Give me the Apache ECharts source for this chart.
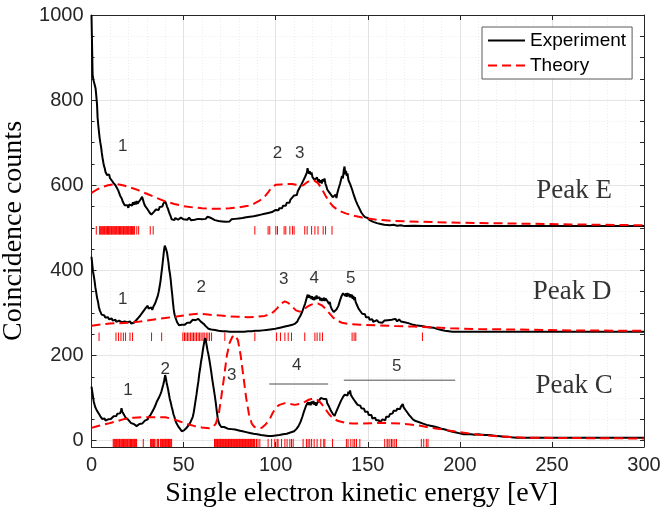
<!DOCTYPE html>
<html>
<head>
<meta charset="utf-8">
<script src="https://cdn.jsdelivr.net/npm/echarts@6/dist/echarts.min.js"></script>
<style>html,body{margin:0;padding:0;background:#fff}#c{width:664px;height:508px}</style>
</head>
<body>
<div id="c"></div>
<script>
// ---------- data ----------
const xTicks = [0, 50, 100, 150, 200, 250, 300];
const yTicks = [0, 200, 400, 600, 800, 1000];
const yMinorTicks = [0, 50, 100, 150, 200, 250, 300, 350, 400, 450, 500, 550, 600, 650, 700, 750, 800, 850, 900, 950, 1000];
const peakOffsets = [500, 250, 0]; // E, D, C baselines

const expE = [[0,1000],[0.3,930],[0.6,860],[1.0,848],[1.4,852],[1.8,835],[2.2,828],[2.6,810],[3.0,790],[3.3,760],[3.6,745],[4.0,728],[4.4,712],[4.8,700],[5.2,690],[5.6,676],[6.0,664],[6.4,654],[6.8,645],[7.2,640],[7.6,631],[8.0,633],[8.4,624],[8.8,627],[9.2,620],[9.6,625],[10.0,617],[10.4,614],[10.8,618],[11.2,610],[11.6,612],[12.0,605],[12.5,608],[13.0,600],[13.5,596],[14.0,601],[14.5,588],[15.0,584],[15.5,576],[16.0,572],[16.5,568],[17.0,561],[17.5,563],[18.0,553],[18.5,556],[19.0,549],[19.5,553],[20.0,547],[20.5,555],[21.0,551],[21.5,558],[22.0,552],[22.5,560],[23.0,554],[23.5,561],[24.0,555],[24.5,563],[25.0,557],[25.5,554],[26.0,561],[26.5,566],[27.0,563],[27.5,573],[28.0,565],[28.5,558],[29.0,552],[29.5,548],[30.0,551],[30.5,543],[31.0,541],[31.5,536],[32.0,539],[32.5,531],[33.0,535],[33.5,530],[34.0,538],[34.5,535],[35.0,543],[35.5,539],[36.0,546],[36.5,542],[37.0,549],[37.5,546],[38.0,553],[38.5,550],[39.0,557],[39.5,553],[40.0,562],[40.5,557],[41.0,550],[41.5,545],[42.0,538],[42.5,532],[43.0,527],[43.5,520],[44.0,517],[44.5,522],[45,518],[45.5,523],[46,521],[46.5,525],[47,519],[47.5,522],[48,518],[48.5,524],[49,521],[49.5,526],[50,520],[51,523],[52,519],[53,524],[54,518],[55,522],[56,519],[57,516],[58,521],[59,518],[60,520],[61,516],[62,521],[63,526],[64,529],[65,523],[66,525],[67,518],[68,521],[69,516],[70,519],[71,515],[72,518],[73,514],[74,518],[75,515],[76,520],[77,516],[78,521],[79,517],[80,522],[81,518],[82,523],[83,519],[84,525],[85,521],[86,526],[87,522],[88,527],[89,523],[90,529],[91,525],[92,531],[93,527],[94,533],[95,529],[96,535],[97,531],[98,537],[99,536],[100,542],[100.5,538],[101,544],[101.5,541],[102,546],[102.5,544],[103,549],[103.5,546],[104,552],[104.5,549],[105,556],[105.5,552],[106,559],[106.5,556],[107,563],[107.5,559],[108,566],[108.5,563],[109,571],[109.5,568],[110,576],[110.5,572],[111,580],[111.5,577],[112,586],[112.5,584],[113,594],[113.5,592],[114,602],[114.5,600],[115,611],[115.5,608],[116,620],[116.5,618],[117,630],[117.3,640],[117.7,636],[118.1,627],[118.5,633],[119,625],[119.5,630],[120,619],[120.5,622],[121,613],[121.5,617],[122,610],[122.5,618],[123,608],[123.5,614],[124,606],[124.5,612],[125,604],[125.5,614],[126,609],[126.5,616],[127,604],[127.5,598],[128,590],[128.5,594],[129,584],[129.5,588],[130,578],[130.5,582],[131,572],[131.5,576],[132,568],[132.5,578],[133,570],[133.5,582],[134,590],[134.5,586],[135,604],[135.5,600],[136,622],[136.5,616],[137,636],[137.4,644],[137.8,626],[138.2,634],[138.6,622],[139,628],[139.5,612],[140,616],[140.5,602],[141,600],[141.5,590],[142,588],[142.5,576],[143,574],[143.5,564],[144,562],[144.5,554],[145,552],[145.5,545],[146,544],[146.5,536],[147,536],[147.5,530],[148,531],[148.5,525],[149,527],[149.5,521],[150,523],[151,518],[152,519],[153,514],[154,515],[155,511],[156,513],[157,509],[158,510],[159,507],[160,509],[162,506],[164,507],[166,505],[168,506],[170,504],[175,505],[180,504],[190,504],[300,504]];

const theoE = [[0,582],[3,590],[6,596],[9,600],[13,603],[17,600],[21,595],[25,589],[30,580],[35,571],[40,562],[45,556],[50,551],[55,548],[60,546],[65,545],[70,545],[75,546],[80,548],[85,552],[88,556],[91,563],[94,573],[96,584],[98,596],[100,601],[103,602],[106,603],[109,603],[111,601],[113,599],[115,600],[117,607],[119,612],[121,611],[123,605],[125,592],[127,576],[129,562],[131,551],[134,541],[138,534],[142,529],[147,524],[155,519],[165,516],[180,514],[200,512],[230,510],[260,508],[300,506]];

const expD = [[0,432],[0.4,415],[0.8,398],[1.2,388],[1.7,374],[2.1,360],[2.5,350],[3.0,336],[3.5,327],[4.0,314],[4.5,306],[5.0,302],[5.5,296],[6.0,298],[6.5,292],[7.0,294],[7.5,289],[8.0,292],[8.5,286],[9.0,290],[9.5,285],[10,288],[10.5,283],[11,287],[11.5,282],[12,285],[12.5,280],[13,284],[13.5,279],[14,283],[14.5,278],[15,282],[15.5,279],[16,283],[16.5,278],[17,281],[17.5,277],[18,280],[18.5,276],[19,281],[19.5,278],[20,282],[20.5,277],[21,280],[21.5,275],[22,279],[22.5,274],[23,277],[23.5,275],[24,280],[24.5,284],[25,283],[25.5,289],[26,288],[26.5,294],[27,293],[27.5,300],[28,298],[28.5,306],[29,303],[29.5,312],[30,308],[30.5,317],[31,310],[31.5,314],[32,306],[32.5,313],[33,307],[33.5,314],[34,312],[34.5,322],[35,326],[35.5,334],[36,340],[36.5,350],[37,362],[37.5,376],[38,394],[38.5,412],[39,432],[39.4,448],[39.8,458],[40.2,456],[40.6,448],[41,442],[41.4,430],[41.8,418],[42.2,402],[42.6,392],[43,378],[43.4,360],[43.8,344],[44.2,326],[44.6,310],[45,298],[45.5,290],[46,284],[46.5,278],[47,275],[47.5,271],[48,273],[48.5,269],[49,272],[49.5,270],[50,274],[50.5,272],[51,276],[51.5,273],[52,277],[52.5,275],[53,279],[53.5,277],[54,281],[54.5,280],[55,284],[55.5,282],[56,286],[56.5,283],[57,287],[57.5,284],[58,286],[58.5,282],[59,283],[59.5,279],[60,279],[60.5,275],[61,274],[61.5,270],[62,269],[62.5,266],[63,266],[63.5,263],[64,264],[65,261],[66,263],[67,260],[68,261],[69,258],[70,260],[71,257],[72,259],[73,257],[74,259],[75,256],[76,258],[77,256],[78,258],[79,256],[80,258],[81,256],[82,258],[83,256],[84,258],[85,257],[86,259],[87,257],[88,259],[89,258],[90,260],[91,258],[92,260],[93,259],[94,261],[95,260],[96,262],[97,261],[98,263],[99,262],[100,265],[101,264],[102,267],[103,266],[104,269],[105,268],[106,272],[107,270],[108,274],[109,272],[110,276],[110.6,275],[111.2,279],[111.8,280],[112.4,286],[113,290],[113.5,294],[114,297],[114.5,304],[115,308],[115.5,316],[116,322],[116.5,330],[117,338],[117.4,343],[117.8,336],[118.2,342],[118.6,335],[119,340],[119.4,333],[119.8,339],[120.2,331],[120.6,337],[121,330],[121.4,338],[121.8,332],[122.2,341],[122.6,334],[123,338],[123.4,331],[123.8,337],[124.2,329],[124.6,335],[125,328],[125.4,334],[125.8,329],[126.2,336],[126.6,328],[127,334],[127.4,330],[127.8,337],[128.2,327],[128.6,330],[129,321],[129.4,326],[129.8,316],[130.2,318],[130.6,308],[131,310],[131.5,302],[132,304],[132.5,300],[133,308],[133.5,306],[134,316],[134.5,320],[135,330],[135.4,332],[135.8,340],[136.2,338],[136.6,346],[137,342],[137.4,348],[137.8,340],[138.2,346],[138.6,338],[139,347],[139.4,340],[139.8,345],[140.2,337],[140.6,344],[141,336],[141.4,343],[141.8,333],[142.2,340],[142.6,330],[143,337],[143.4,326],[143.8,330],[144.2,318],[144.6,320],[145,310],[145.5,314],[146,304],[146.5,306],[147,298],[147.5,302],[148,294],[148.5,297],[149,290],[149.5,293],[150,286],[150.5,290],[151,284],[151.5,288],[152,282],[152.5,285],[153,279],[153.5,283],[154,278],[155,283],[156,278],[157,282],[158,277],[159,282],[160,278],[161,283],[162,279],[163,284],[164,281],[165,286],[166,280],[167,285],[168,280],[169,283],[170,278],[171,281],[172,276],[173,278],[174,273],[175,276],[176,271],[177,274],[178,270],[179,272],[180,269],[181,271],[182,267],[183,270],[184,266],[185,268],[186,265],[187,266],[188,262],[189,263],[190,260],[191,260],[192,258],[194,257],[196,256],[200,256],[210,256],[300,256]];

const theoD = [[0,270],[5,273],[10,275],[15,276],[20,277],[25,279],[30,282],[35,285],[40,288],[45,291],[50,294],[55,297],[58,298],[62,297],[66,295],[70,294],[75,292],[80,291],[85,290],[90,291],[94,293],[97,297],[99,303],[101,312],[103,322],[105,327],[107,323],[109,315],[111,306],[113,303],[115,307],[117,314],[119,319],[121,322],[123,322],[125,318],[127,310],[129,300],[131,290],[133,283],[136,277],[140,274],[146,272],[155,271],[165,269],[175,268],[185,266],[195,264],[210,262],[230,261],[260,259],[300,258]];

const expC = [[0,127],[0.4,115],[0.8,104],[1.2,92],[1.7,84],[2.1,78],[2.6,74],[3.0,70],[3.5,68],[4.0,63],[4.4,61],[4.8,57],[5.3,56],[5.8,51],[6.2,54],[6.7,49],[7.1,52],[7.6,47],[8.0,50],[8.5,46],[9.0,50],[9.5,48],[10,53],[10.5,51],[11,55],[11.5,52],[12,57],[12.5,55],[13,60],[13.5,58],[14,63],[14.5,60],[15,66],[15.5,64],[16,70],[16.3,76],[16.7,68],[17.1,70],[17.5,62],[18,60],[18.5,54],[19,55],[19.5,50],[20,49],[20.5,45],[21,46],[21.5,41],[22,42],[22.5,38],[23,39],[23.5,35],[24,37],[24.5,34],[25,38],[25.5,35],[26,39],[26.5,37],[27,41],[27.5,40],[28,44],[28.5,43],[29,47],[29.5,46],[30,51],[30.5,50],[31,55],[31.5,56],[32,60],[32.5,63],[33,68],[33.5,72],[34,76],[34.5,80],[35,86],[35.5,92],[36,96],[36.5,100],[37,104],[37.5,110],[38,116],[38.5,124],[39,132],[39.5,142],[40,154],[40.4,146],[40.8,136],[41.2,128],[41.6,120],[42,110],[42.5,98],[43,90],[43.5,80],[44,72],[44.5,62],[45,56],[45.5,48],[46,42],[46.5,38],[47,34],[47.5,31],[48,28],[48.5,25],[49,22],[49.6,20],[50.2,24],[50.8,25],[51.4,29],[52,30],[52.6,35],[53.2,38],[53.8,44],[54.4,48],[55,56],[55.5,66],[56,80],[56.5,94],[57,108],[57.5,124],[58,138],[58.5,156],[59,170],[59.5,186],[60,198],[60.5,214],[61,226],[61.4,236],[61.8,241],[62.2,232],[62.6,222],[63,212],[63.5,202],[64,190],[64.5,176],[65,162],[65.5,146],[66,132],[66.5,118],[67,104],[67.5,88],[68,70],[68.5,54],[69,44],[69.5,38],[70,34],[70.5,32],[71,34],[71.5,30],[72,32],[72.5,29],[73,31],[74,28],[75,30],[76,27],[77,29],[78,26],[79,27],[80,24],[81,25],[82,22],[83,23],[84,20],[85,21],[86,18],[87,19],[88,16],[89,17],[90,15],[91,15],[92,13],[93,14],[94,12],[95,13],[96,11],[97,12],[98,11],[99,13],[100,12],[101,14],[102,13],[103,15],[104,15],[105,17],[106,16],[107,19],[108,19],[109,21],[110,22],[110.6,24],[111.2,27],[111.8,28],[112.4,34],[113,38],[113.5,44],[114,48],[114.5,56],[115,60],[115.5,70],[116,74],[116.5,82],[117,84],[117.5,90],[118,84],[118.5,90],[119,83],[119.5,92],[120,86],[120.5,93],[121,84],[121.5,90],[122,82],[122.5,88],[123,86],[123.5,94],[124,92],[124.5,100],[125,96],[125.5,104],[126,98],[126.5,102],[127,94],[127.5,98],[128,88],[128.5,90],[129,80],[129.5,80],[130,70],[130.5,70],[131,63],[131.5,64],[132,58],[132.5,64],[133,66],[133.5,74],[134,76],[134.5,84],[135,86],[135.5,94],[136,94],[136.5,102],[137,100],[137.5,108],[138,104],[138.5,112],[139,106],[139.5,115],[140,110],[140.4,118],[140.8,108],[141.2,112],[141.6,102],[142,106],[142.5,96],[143,100],[143.5,90],[144,94],[144.5,84],[145,88],[145.5,80],[146,82],[146.5,76],[147,79],[147.5,72],[148,75],[148.5,68],[149,72],[149.5,65],[150,68],[150.5,60],[151,64],[151.5,56],[152,60],[152.5,52],[153,56],[153.5,50],[154,54],[154.5,48],[155,52],[155.5,45],[156,48],[156.5,42],[157,46],[157.5,42],[158,50],[158.5,46],[159,52],[159.5,48],[160,56],[160.5,52],[161,58],[161.5,56],[162,62],[162.5,60],[163,66],[163.5,64],[164,70],[164.5,68],[165,72],[165.5,70],[166,75],[166.5,72],[167,78],[167.5,74],[168,80],[168.5,78],[169,86],[169.5,78],[170,80],[170.5,72],[171,74],[171.5,66],[172,66],[172.5,60],[173,60],[173.5,55],[174,56],[174.5,50],[175,52],[176,46],[177,48],[178,43],[179,45],[180,40],[181,42],[182,37],[183,40],[184,35],[185,38],[186,33],[187,35],[188,31],[189,33],[190,28],[191,30],[192,26],[193,27],[194,23],[195,24],[196,21],[197,22],[198,19],[199,20],[200,17],[201,18],[202,15],[203,17],[204,15],[205,18],[206,15],[207,17],[208,14],[209,18],[210,15],[211,17],[212,14],[213,16],[214,13],[215,16],[216,13],[217,15],[218,12],[219,14],[220,11],[221,12],[222,10],[223,11],[224,9],[226,9],[228,8],[231,7],[300,7]];

const theoC = [[0,30],[4,35],[9,40],[14,46],[18,51],[23,54],[29,55],[35,55],[40,55],[44,51],[48,45],[52,39],[56,34],[60,31],[64,29],[66,32],[67.5,40],[69,60],[70.4,100],[72,150],[73.5,200],[75,230],[76.5,244],[78,248],[79.5,236],[81,200],[82.5,150],[84,100],[85.5,62],[87,40],[88.5,32],[90.5,29],[92.5,30],[94.5,38],[96.5,48],[98.5,66],[100.3,78],[102,84],[105,88],[108,86],[110.4,84],[113,86],[115.8,91],[118,96],[120.3,99],[122,98],[123.5,93],[125,86],[127,74],[129,62],[131.2,52],[134,46],[137.5,42],[142,40],[147,40],[152,41],[157,42],[162,41],[168,40],[173,38],[177,36],[182,32],[186,29],[191,26],[195,23],[200,20],[205,17],[210,14],[220,10],[235,7],[260,6],[300,5]];

const sticksE = [2.6,4.4,4.8,5.3,5.7,6.1,6.6,7.0,7.4,7.9,8.3,8.7,9.2,9.6,10.0,10.5,10.9,11.3,11.8,12.2,12.6,13.1,13.5,13.9,14.4,14.8,15.2,15.7,16.1,16.5,17.0,17.4,17.8,18.3,18.7,19.1,19.6,20.0,20.4,20.9,21.3,21.7,22.2,22.6,23.0,23.4,24.6,25.6,31.9,33.5,88.7,95.9,96.8,100.1,101,104.6,105.5,107.7,109.1,110,115.8,117.1,119.5,121.3,123,125.8,127.1,130.6];

const sticksD = [4.1,13.3,14.7,16.0,17.3,18.5,20.9,22.3,32.6,38.1,49.6,50.5,51.3,52.1,52.9,53.8,54.6,55.4,56.2,57.0,57.9,58.7,59.5,60.5,61.2,62.3,63.2,64.1,65.2,72.4,88.7,100.5,102.6,105.0,106.8,108.6,115.8,121.3,122.5,124.0,125.4,141.5,142.6,143.5,179.7];

const sticksC = [11.8,12.2,12.6,13.1,13.5,13.9,14.3,14.8,15.2,15.6,16.1,16.5,16.9,17.4,17.8,18.2,18.6,19.1,19.5,19.9,20.4,20.8,21.2,21.7,22.1,22.5,22.9,23.4,23.8,24.2,24.5,28.1,32.1,32.5,32.9,33.3,33.7,34.1,34.5,35.6,36.0,36.4,37.4,37.8,38.2,38.6,39.0,39.4,39.8,40.2,40.6,41.0,41.4,41.8,42.3,42.7,43.1,43.5,66.8,67.2,67.6,68.0,68.4,68.8,69.2,69.6,70.0,70.4,70.8,71.2,71.6,72.0,72.4,72.8,73.2,73.6,74.0,74.4,74.8,75.2,75.6,76.0,76.4,76.8,77.2,77.6,78.0,78.4,78.8,79.2,79.6,80.0,80.4,80.8,81.2,81.6,82.0,82.4,82.8,83.2,83.6,84.0,84.4,84.8,85.2,85.6,86.0,86.4,86.8,87.2,87.6,88.0,88.4,88.7,89.6,90.4,91.4,95.9,97.8,99.5,100.8,101.3,103.2,105,106.2,107.7,108.6,109.5,114.9,116.7,117.6,118.5,119.5,120.9,122.5,124.5,126.1,126.7,130.9,138.4,139.3,140.8,142,142.9,143.9,145.7,159.2,160.5,161,162,162.9,163.7,164.7,165.6,179.1,180.4,181.8,182.7];

const peakNames = ['Peak E', 'Peak D', 'Peak C'];
const peakNamePos = [[262, 587], [261, 349], [262, 128]];
const bandLabels = [
  [17, 691, '1'], [101, 674, '2'], [113, 674, '3'],
  [17, 331, '1'], [59.6, 360, '2'], [104.4, 378, '3'], [120.9, 382, '4'], [140.8, 382, '5'],
  [19.8, 119, '1'], [40, 167, '2'], [76.2, 154, '3'], [111.5, 178, '4'], [165.7, 175, '5']
];
const rangeLine4 = [[96.5, 133], [128.5, 133]];
const rangeLine5 = [[137, 142], [197.5, 142]];

// ---------- chart ----------
const chart = echarts.init(document.getElementById('c'), null, {renderer: 'canvas'});
const axisCol = '#262626';
const sans = 'Liberation Sans';
const serif = 'Liberation Serif';

function rug(base) {
  return function (params, api) {
    const x = api.value(0);
    const p1 = api.coord([x, base - 16]);
    const p2 = api.coord([x, base + 4]);
    return {
      type: 'line',
      shape: {x1: p1[0], y1: p1[1], x2: p2[0], y2: p2[1]},
      style: {stroke: '#ff0000', lineWidth: 1}
    };
  };
}

const expStyle = {color: '#000000', width: 2};
const theoStyle = {color: '#ff0000', width: 2, type: [9, 5]};
function lineSeries(name, data, style, z) {
  return {name, type: 'line', data, symbol: 'none', showSymbol: false, lineStyle: style, itemStyle: {color: style.color}, z, silent: true, animation: false};
}

const stickSets = [sticksE, sticksD, sticksC];
const series = [];
[expE, expD, expC].forEach(d => series.push(lineSeries('Experiment', d, expStyle, 3)));
[theoE, theoD, theoC].forEach(d => series.push(lineSeries('Theory', d, theoStyle, 4)));
stickSets.forEach((s, i) => series.push({
  type: 'custom', renderItem: rug(peakOffsets[i]), data: s.map(v => [v, peakOffsets[i]]),
  clip: true, silent: true, animation: false, z: 2
}));
series.push(lineSeries('range4', rangeLine4, {color: '#4d4d4d', width: 1}, 2));
series.push(lineSeries('range5', rangeLine5, {color: '#4d4d4d', width: 1}, 2));
series.push({
  type: 'scatter', data: bandLabels, symbolSize: 0, silent: true, animation: false, z: 6,
  label: {show: true, position: 'inside', formatter: p => p.value[2], fontFamily: sans, fontSize: 17, color: '#000'}
});
series.push({
  type: 'scatter', data: peakNamePos.map((p, i) => [p[0], p[1], peakNames[i]]), symbolSize: 0, silent: true, animation: false, z: 6,
  label: {show: true, position: 'inside', formatter: p => p.value[2], fontFamily: serif, fontSize: 27, color: '#000'}
});

const option = {
  backgroundColor: '#ffffff',
  animation: false,
  grid: {left: 91.5, right: 20, top: 15, bottom: 61, containLabel: false, outerBoundsMode: 'none'},
  legend: {
    data: ['Experiment', 'Theory'], orient: 'vertical', left: 482, top: 27,
    itemWidth: 37, itemHeight: 19, itemGap: 6, padding: [4, 6, 4, 5],
    borderColor: '#5a5a5a', borderWidth: 1, backgroundColor: '#fff',
    itemStyle: {opacity: 0},
    textStyle: {fontFamily: sans, fontSize: 19, color: '#000'}, selectedMode: false
  },
  xAxis: [{
    type: 'value', min: 0, max: 300, interval: 50, position: 'bottom',
    name: 'Single electron kinetic energy [eV]', nameLocation: 'middle', nameGap: 29,
    nameTextStyle: {fontFamily: serif, fontSize: 28, color: '#000', padding: [0, 12, 0, 0]},
    axisLine: {show: true, onZero: false, lineStyle: {color: axisCol, width: 1}},
    axisTick: {show: true, inside: true, length: 5, lineStyle: {color: axisCol}},
    axisLabel: {fontFamily: sans, fontSize: 20, color: axisCol, margin: 8, formatter: v => String(v)},
    splitLine: {show: true, lineStyle: {color: '#e2e2e2', width: 1}},
    minorTick: {show: false, splitNumber: 5},
    minorSplitLine: {show: true, lineStyle: {color: '#ececec', width: 1, type: [1, 2]}}
  }, {
    type: 'value', min: 0, max: 300, interval: 50, position: 'top',
    axisLine: {show: true, onZero: false, lineStyle: {color: axisCol, width: 1}},
    axisTick: {show: true, inside: true, length: 5, lineStyle: {color: axisCol}},
    axisLabel: {show: false}, splitLine: {show: false}
  }],
  yAxis: [{
    type: 'value', min: -15, max: 1000, position: 'left',
    name: 'Coincidence counts', nameLocation: 'middle', nameGap: 59,
    nameTextStyle: {fontFamily: serif, fontSize: 28, color: '#000'},
    axisLine: {show: true, onZero: false, lineStyle: {color: axisCol, width: 1}},
    axisTick: {show: true, inside: true, length: 5, customValues: yTicks, lineStyle: {color: axisCol}},
    axisLabel: {fontFamily: sans, fontSize: 20, color: axisCol, margin: 8, customValues: yTicks, formatter: v => String(v)},
    splitLine: {show: true, lineStyle: {color: '#e2e2e2', width: 1}}
  }, {
    type: 'value', min: -15, max: 1000, position: 'right',
    axisLine: {show: true, onZero: false, lineStyle: {color: axisCol, width: 1}},
    axisTick: {show: true, inside: true, length: 4, customValues: yMinorTicks, lineStyle: {color: axisCol}},
    axisLabel: {show: false},
    splitLine: {show: true, lineStyle: {color: '#ececec', width: 1, type: [1, 2]}}
  }, {
    type: 'value', min: -15, max: 1000, position: 'left',
    axisLine: {show: false},
    axisTick: {show: true, inside: true, length: 3, customValues: yMinorTicks, lineStyle: {color: axisCol}},
    axisLabel: {show: false}, splitLine: {show: false}
  }],
  series: series
};
chart.setOption(option);
</script>
</body>
</html>
